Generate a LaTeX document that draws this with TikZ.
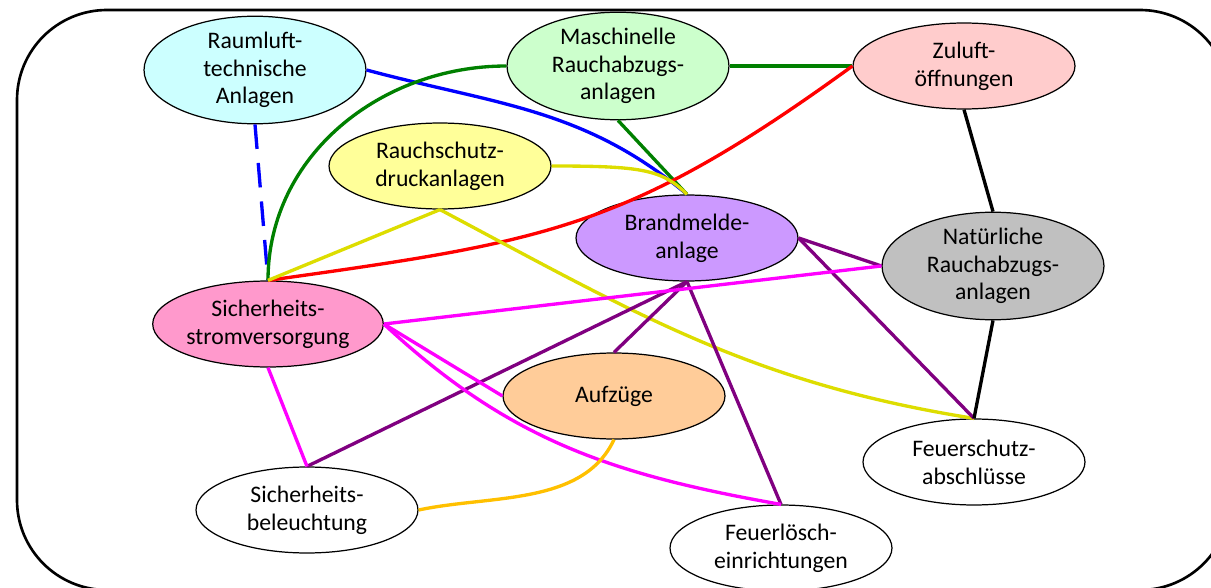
\documentclass[tikz,border=0pt]{standalone}
\usepackage{fontspec}
\setmainfont{Carlito}
\usepackage{xcolor}
\usepackage{tikz}
\usetikzlibrary{shapes.geometric}

\definecolor{rltFill}{HTML}{CCFFFF}
\definecolor{mraFill}{HTML}{CCFFCC}
\definecolor{zulFill}{HTML}{FFCCCC}
\definecolor{rdaFill}{HTML}{FFFF99}
\definecolor{bmaFill}{HTML}{CC99FF}
\definecolor{nraFill}{HTML}{C0C0C0}
\definecolor{ssvFill}{HTML}{FF99CC}
\definecolor{aufFill}{HTML}{FFCC99}
\definecolor{linkBlue}{HTML}{0000FF}
\definecolor{linkRed}{HTML}{FF0000}
\definecolor{linkGreen}{HTML}{008000}
\definecolor{linkYellow}{HTML}{DDDD00}
\definecolor{linkPurple}{HTML}{800080}
\definecolor{linkMagenta}{HTML}{FF00FF}
\definecolor{linkOrange}{HTML}{FFC000}

\begin{document}
\begin{tikzpicture}[
  x=0.02cm, y=-0.02cm,
  sys/.style={
    draw,
    ellipse,
    line width=0.7pt,
    fill=white,
    align=center,
    font=\fontsize{13.5}{15.8}\selectfont,
    minimum width=4.44cm,
    minimum height=1.72cm,
    inner sep=0pt
  },
  link/.style={line width=1.9pt}
]

\useasboundingbox (0,0) rectangle (1211,588);
\clip (0,0) rectangle (1211,588);

% Frame
\draw[line width=1.5pt, rounded corners=1.8cm] (17,10) rectangle (1230,590);

% Systems
\node[sys, fill=rltFill] (rlt) at (255,70) {Raumluft-\\technische\\Anlagen};
\node[sys, fill=mraFill] (mra) at (618,66) {Maschinelle\\Rauchabzugs-\\anlagen};
\node[sys, fill=zulFill] (zul) at (964,66) {Zuluft-\\öffnungen};
\node[sys, fill=rdaFill] (rda) at (440,166) {Rauchschutz-\\druckanlagen};
\node[sys, fill=bmaFill] (bma) at (687,238) {Brandmelde-\\anlage};
\node[sys, fill=nraFill] (nra) at (993,266) {Natürliche\\Rauchabzugs-\\anlagen};
\node[sys, fill=ssvFill] (ssv) at (268,324) {Sicherheits-\\stromversorgung};
\node[sys, fill=aufFill] (auf) at (614,396) {Aufzüge};
\node[sys] (fsa) at (974,462) {Feuerschutz-\\abschlüsse};
\node[sys] (sbl) at (307,510) {Sicherheits-\\beleuchtung};
\node[sys] (fle) at (781,548) {Feuerlösch-\\einrichtungen};

% Links
\draw[link, linkBlue, dash pattern=on 14pt off 8pt] (rlt.south) -- (ssv.north);
\draw[link, linkBlue] (rlt.east) to[out=-15, in=140] (bma.north);
\draw[link, linkGreen] (mra.west) to[out=180, in=90] (ssv.north);
\draw[link, linkGreen] (mra.east) -- (zul.west);
\draw[link, linkGreen] (mra.south) -- (bma.north);
\draw[link, linkRed] (zul.west) to[out=216, in=8, looseness=1.15] (ssv.north);
\draw[link, linkYellow] (rda.east) .. controls +(90,0) and +(-25,-25) .. (bma.north);
\draw[link, linkYellow] (rda.south) -- (ssv.north);
\draw[link, linkYellow] (rda.south) to[out=-28, in=171] (fsa.north);
\draw[link, linkPurple] (bma.east) -- (nra.west);
\draw[link, linkPurple] (bma.east) -- (fsa.north);
\draw[link, linkPurple] (bma.south) -- (sbl.north);
\draw[link, linkPurple] (bma.south) -- (auf.north);
\draw[link, linkPurple] (bma.south) -- (fle.north);
\draw[link, linkMagenta] (ssv.east) -- (nra.west);
\draw[link, linkMagenta] (ssv.east) -- (auf.west);
\draw[link, linkMagenta] (ssv.east) to[out=-43, in=170] (fle.north);
\draw[link, linkMagenta] (ssv.south) -- (sbl.north);
\draw[link, linkOrange] (auf.south) to[out=-115, in=12, looseness=0.9] (sbl.east);
\draw[link, black] (zul.south) -- (nra.north);
\draw[link, black] (nra.south) -- (fsa.north);

\end{tikzpicture}
\end{document}
